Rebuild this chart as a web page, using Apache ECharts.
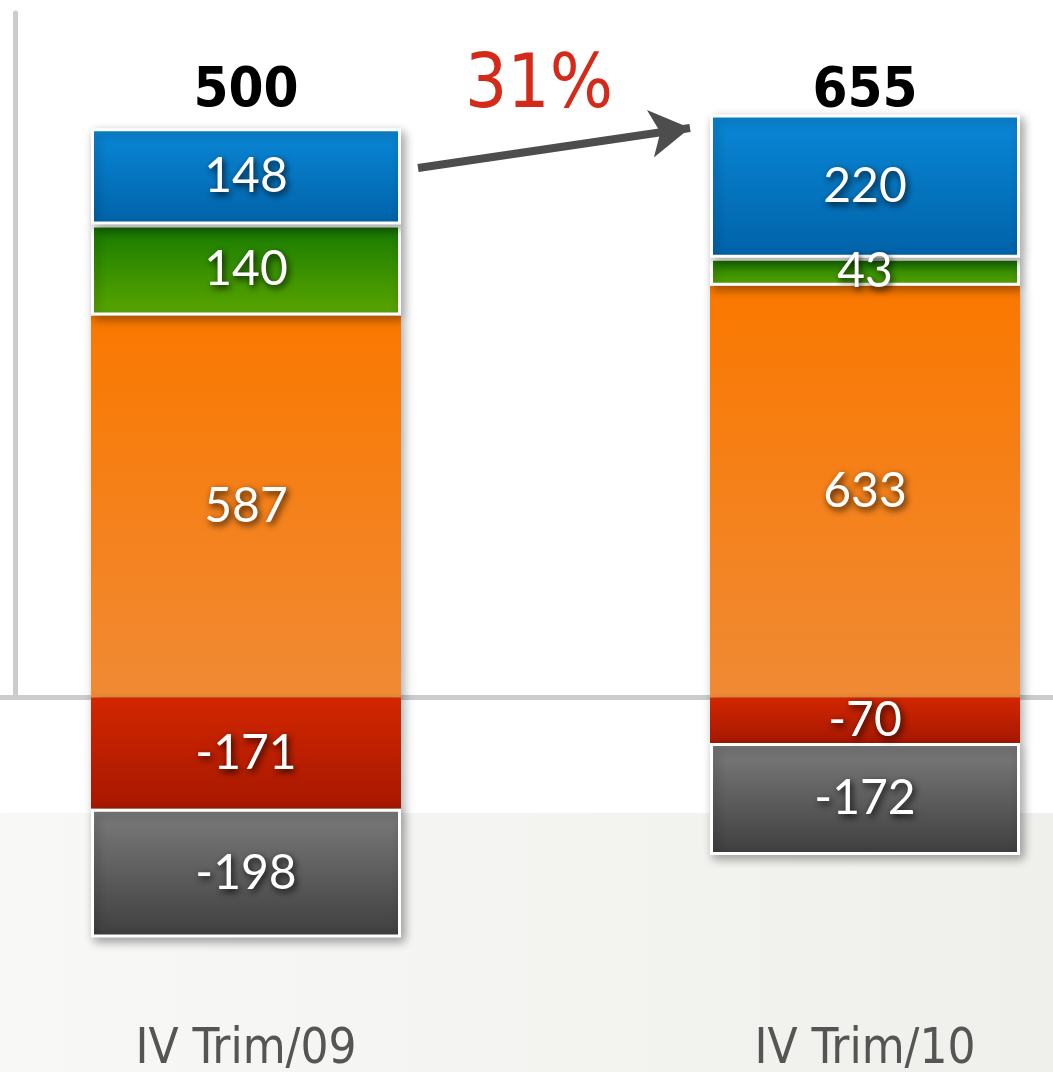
<!DOCTYPE html>
<html>
<head>
<meta charset="utf-8">
<script src="https://cdn.jsdelivr.net/npm/echarts@6/dist/echarts.min.js"></script>
<style>
html,body{margin:0;padding:0;background:#fff;}
#chart{width:1053px;height:1072px;}
</style>
</head>
<body>
<div id="chart"></div>
<script>
// ---- data ----
const categories = ['IV Trim/09', 'IV Trim/10'];
const totals = [500, 655];
const blueValues = [148, 220];
const greenValues = [140, 43];
const orangeValues = [587, 633];
const redValues = [-171, -70];
const grayValues = [-198, -172];
const growthLabel = '31%';

const chart = echarts.init(document.getElementById('chart'), null, {renderer: 'canvas'});

function grad(top, bottom) {
  return new echarts.graphic.LinearGradient(0, 0, 0, 1, [
    {offset: 0, color: top}, {offset: 1, color: bottom}
  ]);
}

const labelFont = "Lato, 'Noto Sans', sans-serif";
const narrowFont = "'Liberation Sans Narrow', 'DejaVu Sans Condensed', sans-serif";

const insideLabel = {
  show: true,
  position: 'inside',
  color: '#ffffff',
  fontFamily: labelFont,
  fontSize: 48,
  textShadowColor: 'rgba(0,0,0,0.85)',
  textShadowBlur: 7,
  textShadowOffsetX: 2,
  textShadowOffsetY: 3
};

function barSeries(name, values, topColor, bottomColor, border) {
  return {
    name: name,
    type: 'bar',
    stack: 'total',
    clip: false,
    barWidth: 310,
    data: values,
    label: insideLabel,
    itemStyle: {
      color: grad(topColor, bottomColor),
      borderColor: border ? '#ffffff' : 'transparent',
      borderWidth: border ? 3 : 0,
      shadowColor: 'rgba(0,0,0,0.35)',
      shadowBlur: 10,
      shadowOffsetX: 3,
      shadowOffsetY: 4
    }
  };
}

const blue = barSeries('blue', blueValues, '#0a88d8', '#0062a8', true);
blue.markLine = {
  silent: true,
  symbol: ['none', 'arrow'],
  symbolSize: [36, 40],
  label: {show: false},
  lineStyle: {color: '#4d4d4d', width: 8, type: 'solid'},
  data: [[{x: 418, y: 168}, {x: 690, y: 128}]]
};

const option = {
  backgroundColor: '#ffffff',
  animation: false,
  graphic: [
    {
      type: 'rect',
      z: -10,
      shape: {x: 0, y: 813, width: 1053, height: 259},
      style: {
        fill: new echarts.graphic.LinearGradient(0, 0, 1, 0, [
          {offset: 0, color: '#f8f8f7'},
          {offset: 1, color: '#efefeb'}
        ])
      }
    },
    {
      type: 'text',
      x: 539,
      y: 88,
      style: {
        text: growthLabel,
        fill: '#d42a1a',
        font: "74px " + narrowFont,
        align: 'center',
        verticalAlign: 'middle'
      }
    }
  ],
  grid: {left: -63.5, right: -121.5, top: 13, bottom: 374.5, containLabel: false, outerBoundsMode: 'none'},
  xAxis: [
    {
      type: 'category',
      data: categories,
      position: 'bottom',
      axisLine: {show: true, onZero: false, lineStyle: {color: '#cccccc', width: 5}},
      axisTick: {show: false},
      axisLabel: {
        margin: 328,
        color: '#555555',
        fontFamily: narrowFont,
        fontSize: 49
      }
    },
    {
      type: 'category',
      data: totals.map(String),
      position: 'top',
      offset: -106,
      axisLine: {show: false},
      axisTick: {show: false},
      axisLabel: {
        margin: 0,
        color: '#000000',
        fontFamily: narrowFont,
        fontWeight: 'bold',
        fontSize: 56
      }
    }
  ],
  yAxis: {
    type: 'value',
    min: 0,
    max: 1052,
    position: 'left',
    offset: -79,
    axisLine: {show: true, lineStyle: {color: '#cccccc', width: 5}},
    axisTick: {show: false},
    axisLabel: {show: false},
    splitLine: {show: false}
  },
  series: [
    barSeries('orange', orangeValues, '#fa7800', '#f08a34', false),
    barSeries('green', greenValues, '#157a00', '#5ba600', true),
    blue,
    barSeries('red', redValues, '#d22600', '#a61800', false),
    barSeries('gray', grayValues, '#7c7c7c', '#3e3e3e', true)
  ]
};

chart.setOption(option);
</script>
</body>
</html>
